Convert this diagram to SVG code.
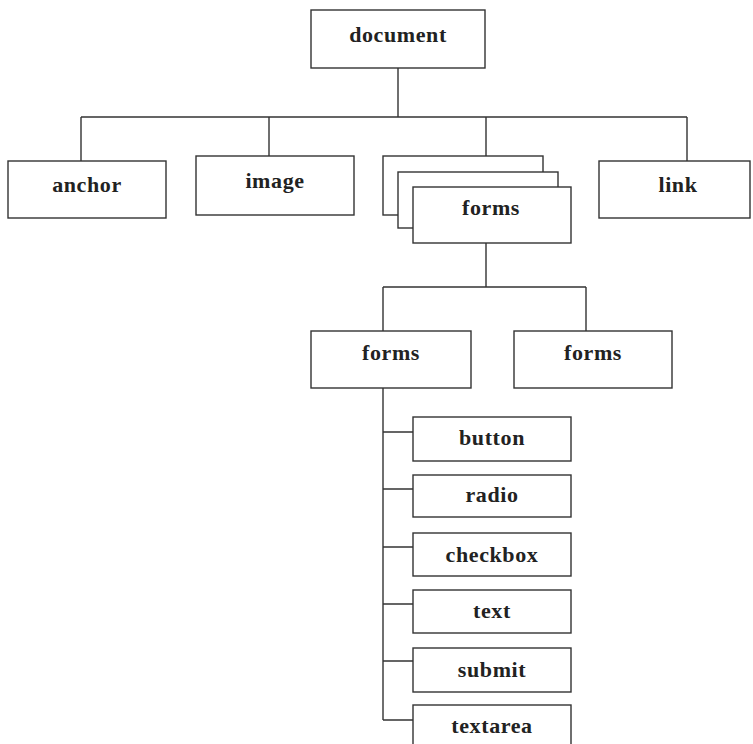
<svg xmlns="http://www.w3.org/2000/svg" width="753" height="744" viewBox="0 0 753 744">
<style>
.box{fill:#fff;stroke:#333;stroke-width:1.4}
.lbl{font-family:"Liberation Serif","Times New Roman",serif;font-weight:bold;font-size:22px;fill:#222;text-anchor:middle;letter-spacing:0.6px}
.ln{fill:none;stroke:#333;stroke-width:1.4}
</style>
<rect width="753" height="744" fill="#fff"/>
<g id="connectors" class="ln">
<path d="M398 68V117M81 117H687M81 117V161M269 117V156M486 117V156M687 117V161"/>
<path d="M486 243V287M383 287H586M383 287V331M586 287V331"/>
<path d="M383 388V720M383 432H413M383 489H413M383 547H413M383 604H413M383 661H413M383 720H413"/>
</g>
<g id="document"><rect class="box" x="311" y="10" width="174" height="58"/><text class="lbl" x="398" y="42">document</text></g>
<g id="anchor"><rect class="box" x="8" y="161" width="158" height="57"/><text class="lbl" x="87" y="192">anchor</text></g>
<g id="image"><rect class="box" x="196" y="156" width="158" height="59"/><text class="lbl" x="275" y="188">image</text></g>
<g id="forms-stack">
<rect class="box" x="383" y="156" width="160" height="59"/>
<rect class="box" x="398" y="172" width="160" height="56"/>
<rect class="box" x="413" y="187" width="158" height="56"/>
<text class="lbl" x="491" y="215">forms</text>
</g>
<g id="link"><rect class="box" x="599" y="161" width="151" height="57"/><text class="lbl" x="678" y="192">link</text></g>
<g id="forms-left"><rect class="box" x="311" y="331" width="160" height="57"/><text class="lbl" x="391" y="360">forms</text></g>
<g id="forms-right"><rect class="box" x="514" y="331" width="158" height="57"/><text class="lbl" x="593" y="360">forms</text></g>
<g id="button"><rect class="box" x="413" y="417" width="158" height="44"/><text class="lbl" x="492" y="445">button</text></g>
<g id="radio"><rect class="box" x="413" y="475" width="158" height="42"/><text class="lbl" x="492" y="502">radio</text></g>
<g id="checkbox"><rect class="box" x="413" y="533" width="158" height="43"/><text class="lbl" x="492" y="562">checkbox</text></g>
<g id="text"><rect class="box" x="413" y="590" width="158" height="43"/><text class="lbl" x="492" y="618">text</text></g>
<g id="submit"><rect class="box" x="413" y="648" width="158" height="44"/><text class="lbl" x="492" y="677">submit</text></g>
<g id="textarea"><rect class="box" x="413" y="705" width="158" height="44"/><text class="lbl" x="492" y="733">textarea</text></g>
</svg>
